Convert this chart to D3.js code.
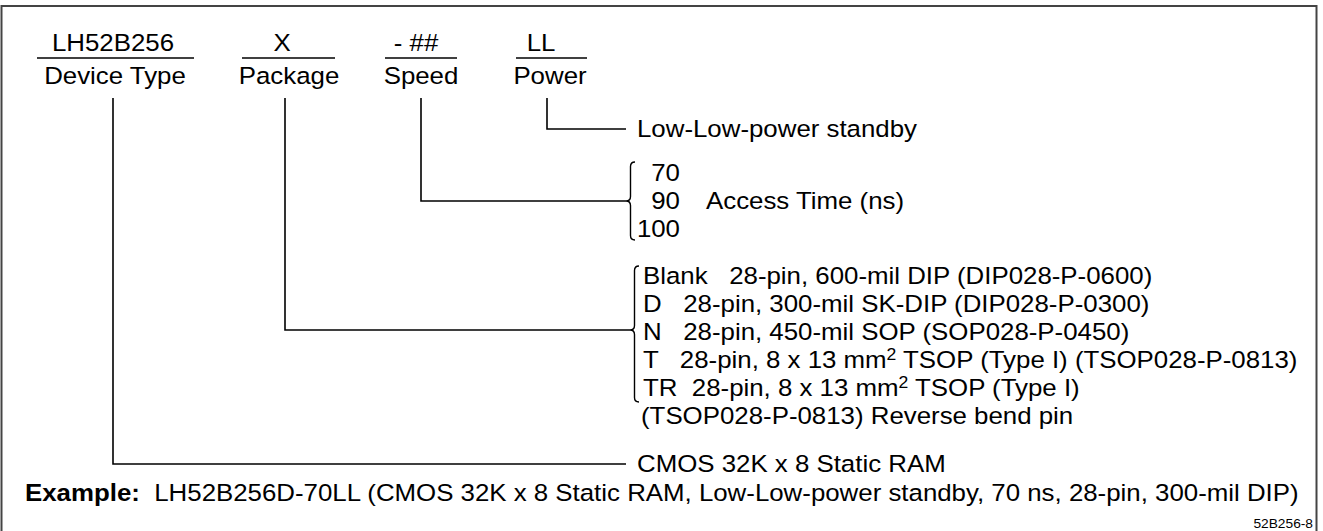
<!DOCTYPE html>
<html>
<head>
<meta charset="utf-8">
<script src="https://cdn.jsdelivr.net/npm/d3@7"></script>
<style>
  body { margin: 0; background: #fff; }
  text { font-family: "Liberation Sans", Arial, Helvetica, sans-serif; fill: #000; white-space: pre; }
</style>
</head>
<body>
<div id="chart-area"></div>
<script>
//Data
var partCodes = ["LH52B256", "X", "- ##", "LL"];
var fieldNames = ["Device Type", "Package", "Speed", "Power"];
var powerOptions = ["Low-Low-power standby"];
var speedCodes = ["70", "90", "100"];
var speedLabel = "Access Time (ns)";
var packageCodes = ["Blank", "D", "N", "T", "TR"];
var packagePad = ["   ", "   ", "   ", "   ", "  "];
var packageDescs = [
    "28-pin, 600-mil DIP (DIP028-P-0600)",
    "28-pin, 300-mil SK-DIP (DIP028-P-0300)",
    "28-pin, 450-mil SOP (SOP028-P-0450)",
    "28-pin, 8 x 13 mm^2 TSOP (Type I) (TSOP028-P-0813)",
    "28-pin, 8 x 13 mm^2 TSOP (Type I)"
];
var packageNote = "(TSOP028-P-0813) Reverse bend pin";
var deviceDesc = "CMOS 32K x 8 Static RAM";
var exampleLabel = "Example:";
var exampleText = "  LH52B256D-70LL (CMOS 32K x 8 Static RAM, Low-Low-power standby, 70 ns, 28-pin, 300-mil DIP)";
var figureId = "52B256-8";

//Canvas
var W = 1323, H = 531;
var fs = 23.5, sx = 1.1;   // scanned type is a bit wider than Liberation Sans
var svg = d3.select("#chart-area").append("svg")
    .attr("width", W)
    .attr("height", H);

function tf(x, y) { return "translate(" + x + "," + y + ") scale(" + sx + ",1)"; }
function label(x, y, str, size) {
    return svg.append("text")
        .attr("transform", tf(x, y))
        .attr("font-size", size || fs)
        .text(str);
}

//Frame
svg.append("rect")
    .attr("x", 1.5).attr("y", 6)
    .attr("width", 1315).attr("height", 560)
    .attr("fill", "none").attr("stroke", "#444").attr("stroke-width", 2);

//Header columns
var colX = d3.scaleOrdinal().domain(fieldNames).range([115, 289, 421, 550]);
var codeX = d3.scaleOrdinal().domain(fieldNames).range([113, 282, 416, 541]);
var ruleX = d3.scaleOrdinal().domain(fieldNames).range([[37, 194], [242, 335], [385, 457], [516, 587]]);
var lineX = d3.scaleOrdinal().domain(fieldNames).range([113, 285, 421, 547]);

svg.selectAll(".code").data(fieldNames).enter().append("text")
    .attr("class", "code")
    .attr("transform", d => tf(codeX(d), 51))
    .attr("text-anchor", "middle").attr("font-size", fs)
    .text((d, i) => partCodes[i]);
svg.selectAll(".rule").data(fieldNames).enter().append("line")
    .attr("class", "rule")
    .attr("x1", d => ruleX(d)[0]).attr("x2", d => ruleX(d)[1])
    .attr("y1", 58).attr("y2", 58)
    .attr("stroke", "#000").attr("stroke-width", 1.5);
svg.selectAll(".field").data(fieldNames).enter().append("text")
    .attr("class", "field")
    .attr("transform", d => tf(colX(d), 84))
    .attr("text-anchor", "middle").attr("font-size", fs)
    .text(d => d);

//Leader lines
var rowY = d3.scaleOrdinal().domain(fieldNames).range([464, 330, 201, 129]);
var endX = d3.scaleOrdinal().domain(fieldNames).range([626, 630, 626, 626]);

svg.selectAll(".leader").data(fieldNames).enter().append("path")
    .attr("class", "leader")
    .attr("fill", "none").attr("stroke", "#000").attr("stroke-width", 1.6)
    .attr("d", d => "M" + lineX(d) + ",98V" + rowY(d) + "H" + endX(d));

//Brace path: tip at (x, ym), spanning y0..y1
function brace(x, y0, ym, y1) {
    var w = 9, r = 4.5;
    return "M" + (x + w) + "," + y0 +
        "Q" + (x + r) + "," + y0 + " " + (x + r) + "," + (y0 + r) +
        "V" + (ym - r) +
        "Q" + (x + r) + "," + ym + " " + x + "," + ym +
        "Q" + (x + r) + "," + ym + " " + (x + r) + "," + (ym + r) +
        "V" + (y1 - r) +
        "Q" + (x + r) + "," + y1 + " " + (x + w) + "," + y1;
}

//Power
label(637, 137, powerOptions[0]);

//Speed
var speedY = d3.scalePoint().domain(speedCodes).range([181, 237]);
svg.append("path")
    .attr("fill", "none").attr("stroke", "#000").attr("stroke-width", 1.4)
    .attr("d", brace(626, 162, rowY("Speed"), 240));
svg.selectAll(".speed").data(speedCodes).enter().append("text")
    .attr("class", "speed")
    .attr("transform", d => tf(680, speedY(d)))
    .attr("text-anchor", "end").attr("font-size", fs)
    .text(d => d);
label(706, speedY("90"), speedLabel);

//Package
var pkgY = d3.scalePoint().domain(packageCodes).range([284, 396]);
svg.append("path")
    .attr("fill", "none").attr("stroke", "#000").attr("stroke-width", 1.4)
    .attr("d", brace(630, 266, rowY("Package"), 402));
var pkg = svg.selectAll(".pkg").data(packageCodes).enter().append("text")
    .attr("class", "pkg")
    .attr("transform", d => tf(643, pkgY(d)))
    .attr("font-size", fs);
pkg.each(function(d, i) {
    var t = d3.select(this);
    var parts = packageDescs[i].split("^2");
    t.append("tspan").text(d + packagePad[i] + parts[0]);
    if (parts.length > 1) {
        t.append("tspan").attr("dy", -8).attr("font-size", 16).text("2");
        t.append("tspan").attr("dy", 8).text(parts[1]);
    }
});
label(641, 424, packageNote);

//Device type
label(637, 472, deviceDesc);

//Example
var ex = label(25, 501, "", 23.5);
ex.append("tspan").attr("font-weight", "bold").text(exampleLabel);
ex.append("tspan").text(exampleText);

svg.append("text")
    .attr("transform", tf(1313, 528))
    .attr("text-anchor", "end").attr("font-size", 12.5)
    .text(figureId);
</script>
</body>
</html>
